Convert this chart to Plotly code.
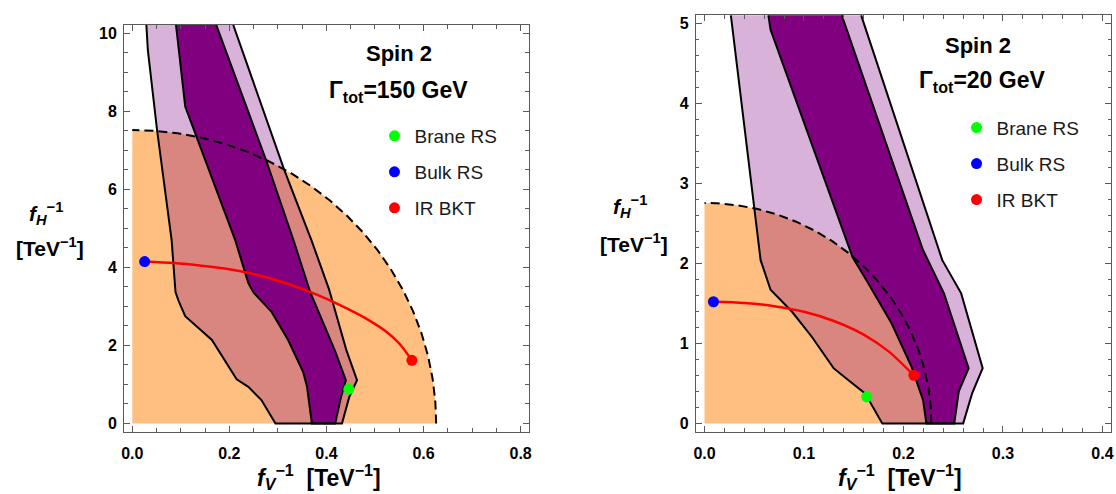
import numpy as np
import plotly.graph_objects as go

# ---------------- data: left panel (Gamma_tot = 150 GeV) ----------------
L_outer_left_x = [0.029, 0.032, 0.051, 0.081, 0.089, 0.096, 0.109, 0.164, 0.215, 0.239, 0.266, 0.295]
L_outer_left_y = [10.21, 9.57, 7.52, 4.70, 3.37, 3.12, 2.75, 2.14, 1.13, 0.94, 0.60, 0.0]
L_outer_right_x = [0.208, 0.313, 0.369, 0.405, 0.441, 0.463, 0.447, 0.432]
L_outer_right_y = [10.21, 6.50, 4.70, 3.45, 1.88, 1.11, 0.68, 0.0]
L_inner_left_x = [0.090, 0.109, 0.212, 0.239, 0.250, 0.287, 0.321, 0.352, 0.360, 0.370]
L_inner_left_y = [10.21, 8.12, 4.70, 3.60, 3.35, 2.86, 2.14, 1.32, 0.94, 0.0]
L_inner_right_x = [0.173, 0.275, 0.332, 0.367, 0.417, 0.440, 0.430, 0.418]
L_inner_right_y = [10.21, 6.77, 4.70, 3.35, 1.88, 1.11, 0.68, 0.0]
L_ellipse_ax = [0.626, 7.52]          # semi-axes (f_V^-1, f_H^-1) of the dashed bound
L_curve_x = [0.0255, 0.086, 0.143, 0.20, 0.26, 0.32, 0.38, 0.43, 0.48, 0.52, 0.55, 0.576]
L_curve_y = [4.15, 4.11, 4.04, 3.95, 3.80, 3.58, 3.30, 3.02, 2.70, 2.38, 2.05, 1.62]
L_points = {"Brane RS": (0.446, 0.88), "Bulk RS": (0.0255, 4.15), "IR BKT": (0.576, 1.62)}

# ---------------- data: right panel (Gamma_tot = 20 GeV) ----------------
R_outer_left_x = [0.0265, 0.0497, 0.054, 0.0564, 0.0664, 0.088, 0.108, 0.1297, 0.1447, 0.1614, 0.1787]
R_outer_left_y = [5.10, 2.675, 2.29, 2.04, 1.67, 1.395, 1.08, 0.69, 0.54, 0.375, 0.0]
R_outer_right_x = [0.1575, 0.239, 0.258, 0.2796, 0.269, 0.260]
R_outer_right_y = [5.10, 2.04, 1.625, 0.69, 0.375, 0.0]
R_inner_left_x = [0.0642, 0.0664, 0.1487, 0.1628, 0.188, 0.208, 0.2197, 0.223]
R_inner_left_y = [5.10, 4.92, 2.08, 1.79, 1.25, 0.71, 0.29, 0.0]
R_inner_right_x = [0.138, 0.2195, 0.2407, 0.2655, 0.2556, 0.251]
R_inner_right_y = [5.10, 2.17, 1.625, 0.69, 0.40, 0.0]
R_ellipse_ax = [0.228, 2.755]
R_curve_x = [0.009, 0.04, 0.07, 0.10, 0.13, 0.16, 0.185, 0.2104]
R_curve_y = [1.52, 1.505, 1.465, 1.395, 1.28, 1.11, 0.90, 0.60]
R_points = {"Brane RS": (0.163, 0.33), "Bulk RS": (0.009, 1.52), "IR BKT": (0.2104, 0.60)}

point_colors = {"Brane RS": "rgb(0,255,0)", "Bulk RS": "rgb(0,0,255)", "IR BKT": "rgb(255,0,0)"}

ORANGE = "rgb(255,191,128)"
LIGHT = "rgba(128,0,128,0.3)"
DARK = "rgb(128,0,128)"
FONT = "Liberation Sans, Arial, sans-serif"

fig = go.Figure()


def add_panel(xa, ya, legend, ell, oLx, oLy, oRx, oRy, iLx, iLy, iRx, iRy, cx, cy, pts):
    a, b = ell
    t = np.linspace(0, np.pi / 2, 200)
    ex = a * np.cos(t)
    ey = b * np.sin(t)
    # orange quarter region
    fig.add_trace(go.Scatter(x=np.concatenate([[0], ex, [0]]), y=np.concatenate([[0], ey, [0]]),
                             fill="toself", fillcolor=ORANGE, line=dict(width=0), mode="lines",
                             hoverinfo="skip", showlegend=False, xaxis=xa, yaxis=ya))
    # outer (light) band fill
    ox = list(oLx) + list(oRx)[::-1]
    oy = list(oLy) + list(oRy)[::-1]
    fig.add_trace(go.Scatter(x=ox, y=oy, fill="toself", fillcolor=LIGHT, line=dict(width=0),
                             mode="lines", hoverinfo="skip", showlegend=False, xaxis=xa, yaxis=ya))
    # inner (dark) band fill
    ix = list(iLx) + list(iRx)[::-1]
    iy = list(iLy) + list(iRy)[::-1]
    fig.add_trace(go.Scatter(x=ix, y=iy, fill="toself", fillcolor=DARK, line=dict(width=0),
                             mode="lines", hoverinfo="skip", showlegend=False, xaxis=xa, yaxis=ya))
    # outlines
    for px, py in ((ox, oy), (ix, iy)):
        fig.add_trace(go.Scatter(x=px, y=py, mode="lines", line=dict(color="black", width=2),
                                 hoverinfo="skip", showlegend=False, xaxis=xa, yaxis=ya))
    # dashed bound
    fig.add_trace(go.Scatter(x=ex, y=ey, mode="lines", line=dict(color="black", width=2, dash="9px,5px"),
                             hoverinfo="skip", showlegend=False, xaxis=xa, yaxis=ya))
    # red curve
    fig.add_trace(go.Scatter(x=cx, y=cy, mode="lines",
                             line=dict(color="rgb(255,0,0)", width=2.5, shape="spline", smoothing=0.8),
                             hoverinfo="skip", showlegend=False, xaxis=xa, yaxis=ya))
    # points
    for name, (px, py) in pts.items():
        fig.add_trace(go.Scatter(x=[px], y=[py], mode="markers", name=name,
                                 marker=dict(color=point_colors[name], size=11),
                                 legendgroup=name + legend, legend=legend, xaxis=xa, yaxis=ya))


add_panel("x", "y", "legend", L_ellipse_ax, L_outer_left_x, L_outer_left_y, L_outer_right_x, L_outer_right_y,
          L_inner_left_x, L_inner_left_y, L_inner_right_x, L_inner_right_y, L_curve_x, L_curve_y, L_points)
add_panel("x2", "y2", "legend2", R_ellipse_ax, R_outer_left_x, R_outer_left_y, R_outer_right_x, R_outer_right_y,
          R_inner_left_x, R_inner_left_y, R_inner_right_x, R_inner_right_y, R_curve_x, R_curve_y, R_points)

W, H = 1116, 494
FRAME = "#5a5a5a"


def axis(domain, rng, dtick, minor, fmt, anchor, standoff):
    return dict(domain=domain, range=rng, dtick=dtick, tick0=0, tickformat=fmt,
                showgrid=False, zeroline=False, showline=True, linecolor=FRAME, linewidth=1,
                mirror="ticks", ticks="inside", ticklen=6, tickcolor=FRAME, tickwidth=1,
                minor=dict(ticks="inside", dtick=minor, ticklen=3.5, tickcolor=FRAME, tickwidth=1, showgrid=False),
                tickfont=dict(family=FONT, size=16, color="black", weight="bold"),
                ticklabelstandoff=standoff, anchor=anchor, fixedrange=True)


LEG_FONT = 19
leg_common = dict(xanchor="left", yanchor="top", bgcolor="rgba(0,0,0,0)", borderwidth=0,
                  font=dict(family=FONT, size=LEG_FONT, color="#1a1a1a"),
                  tracegroupgap=36 - (LEG_FONT * 1.3 + 3), traceorder="grouped")

fig.update_layout(
    width=W, height=H, margin=dict(l=0, r=0, t=0, b=0),
    paper_bgcolor="white", plot_bgcolor="white",
    xaxis=axis([121.7 / W, 528.7 / W], [-0.017, 0.817], 0.2, 0.05, ".1f", "y", 7),
    yaxis=axis([62.3 / H, 469 / H], [-0.21, 10.21], 2, 0.5, "d", "x", 3),
    xaxis2=axis([696.7 / W, 1114 / W], [-0.0086, 0.4086], 0.1, 0.02, ".1f", "y2", 7),
    yaxis2=axis([62.3 / H, 479 / H], [-0.104, 5.104], 1, 0.2, "d", "x2", 3),
    legend=dict(x=(394 - 20.5) / W, y=1 - (134 - 17) / H, **leg_common),
    legend2=dict(x=(976.7 - 18) / W, y=1 - (126.7 - 18) / H, **leg_common),
)

ann = []


def txt(x, y, text, size, bold=True):
    ann.append(dict(x=x / W, y=1 - y / H, xref="paper", yref="paper", text=text, showarrow=False,
                    xanchor="center", yanchor="middle",
                    font=dict(family=FONT, size=size, color="black", weight="bold" if bold else "normal")))


txt(398.3, 53.3, "Spin 2", 22)
txt(397.4, 91.7, "Γ<sub>tot</sub>=150 GeV", 23)
txt(980, 45, "Spin 2", 22)
txt(984, 81.7, "Γ<sub>tot</sub>=20 GeV", 23)
for xc, yl1, yl2, xl in ((43, 213, 246.7, 318), (630, 206.7, 243.3, 901.7)):
    txt(xc, yl1, "<i>f</i><sub><i>H</i></sub><sup>−1</sup>", 21)
    txt(xc + 4, yl2, "[TeV<sup>−1</sup>]", 21)
    txt(xl, 477, "<i>f</i><sub><i>V</i></sub><sup>−1</sup>  [TeV<sup>−1</sup>]", 23)

fig.update_layout(annotations=ann)
fig.write_html("out.html")
